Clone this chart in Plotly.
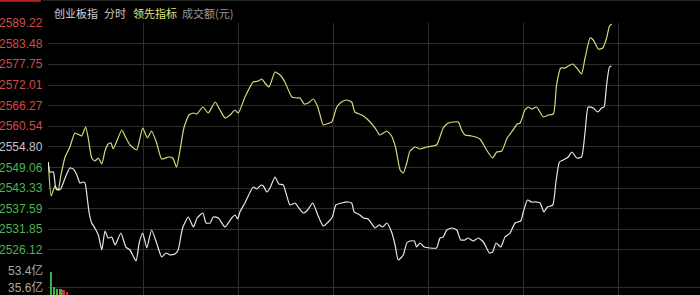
import plotly.graph_objects as go

# ---------------- data ----------------
price_ticks = [2589.22, 2583.48, 2577.75, 2572.01, 2566.27, 2560.54, 2554.80,
               2549.06, 2543.33, 2537.59, 2531.85, 2526.12]
price_bottom = 2520.38
prev_close = 2554.80
time_grid = [0, 30, 60, 90, 120, 150, 180]   # minutes since open

lead_t = [0.1, 1.0, 2.2, 3.2, 4.1, 5.4, 6.9, 8.5, 9.9, 10.6, 11.9, 12.7, 13.8, 14.8,
          15.9, 17.0, 18.0, 19.0, 19.9, 20.6, 23.3, 24.3, 25.9, 28.0, 29.9, 31.4,
          32.7, 34.3, 35.9, 38.0, 39.4, 40.6, 41.7, 42.9, 44.5, 45.9, 47.0, 48.9,
          50.6, 52.8, 54.3, 55.9, 57.5, 59.0, 60.1, 62.2, 64.8, 66.4, 67.5, 68.5,
          69.8, 71.7, 73.3, 74.8, 77.0, 78.5, 79.6, 80.9, 82.2, 83.8, 85.2, 86.9,
          88.0, 89.6, 91.2, 92.7, 94.3, 95.9, 96.9, 99.1, 101.1, 103.3, 104.8,
          107.0, 108.5, 109.8, 111.2, 112.2, 113.3, 114.3, 115.9, 117.5, 119.6,
          122.7, 124.8, 126.4, 128.0, 129.6, 130.6, 131.7, 133.8, 136.4, 138.5,
          140.4, 141.7, 143.3, 145.0, 146.4, 148.2, 149.1, 150.6, 151.7, 152.7,
          154.3, 156.4, 158.0, 159.6, 160.6, 161.9, 163.3, 164.3, 165.7, 167.0,
          168.5, 169.6, 171.2, 172.2, 173.8, 175.2, 176.4, 177.3, 178.0]
lead_v = [2550.32, 2541.13, 2543.91, 2542.80, 2546.98, 2551.99, 2554.77, 2558.67,
          2558.11, 2557.84, 2560.34, 2557.28, 2551.71, 2550.87, 2551.71, 2550.04,
          2553.66, 2555.61, 2555.89, 2554.22, 2559.51, 2557.84, 2555.33, 2553.94,
          2560.06, 2557.28, 2559.23, 2555.89, 2551.43, 2551.99, 2551.71, 2549.20,
          2553.94, 2560.06, 2563.68, 2564.24, 2563.96, 2565.91, 2564.24, 2567.30,
          2565.08, 2562.85, 2563.68, 2565.08, 2564.24, 2568.70, 2572.87, 2573.15,
          2573.71, 2572.60, 2571.48, 2575.66, 2574.82, 2572.87, 2568.70, 2568.42,
          2568.42, 2566.75, 2567.03, 2568.14, 2565.91, 2560.90, 2561.18, 2561.73,
          2565.91, 2567.30, 2567.86, 2567.30, 2564.52, 2563.68, 2562.29, 2560.06,
          2558.11, 2559.23, 2557.84, 2554.49, 2548.37, 2547.53, 2550.32, 2553.66,
          2554.77, 2554.22, 2554.77, 2555.33, 2560.06, 2561.46, 2561.73, 2561.73,
          2559.51, 2558.11, 2557.84, 2557.00, 2553.94, 2551.71, 2553.38, 2553.66,
          2557.28, 2558.95, 2561.18, 2561.46, 2565.08, 2565.91, 2565.35, 2565.91,
          2563.13, 2563.68, 2563.96, 2572.04, 2576.77, 2576.77, 2577.33, 2577.89,
          2576.77, 2575.10, 2579.56, 2585.13, 2584.57, 2582.06, 2582.34, 2585.13,
          2588.47, 2589.03]

index_t = [0.1, 0.6, 1.7, 2.5, 3.3, 4.0, 5.4, 6.9, 8.0, 9.1, 10.1, 11.0, 11.7, 12.2,
           13.0, 13.8, 14.8, 15.9, 17.0, 18.0, 19.0, 20.1, 21.2, 23.0, 24.6, 25.9,
           27.8, 28.8, 29.9, 31.2, 32.7, 34.3, 35.9, 37.3, 38.5, 40.1, 41.1, 42.5,
           44.3, 45.9, 47.1, 48.9, 49.9, 51.2, 52.2, 53.8, 55.9, 58.0, 59.1, 59.9,
           60.6, 62.2, 64.8, 65.9, 67.3, 68.0, 69.1, 70.1, 71.7, 72.9, 74.3, 76.4,
           78.0, 79.0, 80.6, 82.0, 83.6, 85.2, 86.9, 88.5, 89.8, 90.9, 92.7, 94.8,
           95.9, 96.7, 98.5, 99.6, 101.1, 103.3, 104.6, 105.7, 107.0, 108.5, 109.6,
           110.6, 112.2, 113.3, 114.3, 115.7, 116.4, 117.5, 118.8, 120.6, 122.7,
           123.8, 124.8, 125.9, 127.5, 129.1, 130.3, 131.7, 132.7, 134.3, 135.9,
           137.5, 139.4, 140.4, 141.5, 143.0, 144.3, 145.9, 147.5, 149.3, 150.1,
           151.4, 152.7, 154.3, 155.4, 156.6, 157.7, 159.4, 160.4, 161.5, 162.7,
           164.3, 165.4, 167.0, 168.5, 169.6, 170.6, 172.2, 173.6, 174.8, 175.6,
           176.4, 177.3, 178.0]
index_v = [2550.60, 2547.81, 2547.81, 2543.08, 2542.80, 2543.08, 2546.14, 2548.92,
           2548.65, 2546.98, 2544.75, 2545.03, 2544.75, 2541.96, 2536.39, 2533.61,
           2532.22, 2530.27, 2526.09, 2531.38, 2529.43, 2529.71, 2527.48, 2530.82,
           2526.92, 2526.09, 2523.03, 2528.04, 2530.82, 2526.65, 2531.66, 2528.04,
           2524.14, 2525.25, 2524.70, 2524.98, 2526.09, 2532.22, 2535.28, 2532.49,
           2535.00, 2536.39, 2533.61, 2533.61, 2535.28, 2535.00, 2532.49, 2535.00,
           2535.84, 2534.72, 2536.67, 2539.18, 2543.63, 2543.08, 2544.19, 2543.91,
           2542.24, 2543.36, 2546.42, 2544.47, 2544.19, 2538.62, 2539.18, 2538.06,
           2536.39, 2537.23, 2539.18, 2535.84, 2532.77, 2533.89, 2535.28, 2538.62,
           2539.18, 2539.46, 2539.18, 2536.67, 2535.84, 2535.00, 2534.72, 2532.22,
           2533.06, 2532.49, 2533.61, 2531.10, 2527.48, 2523.30, 2524.70, 2528.04,
           2528.60, 2528.60, 2526.92, 2528.04, 2526.92, 2526.65, 2526.65, 2529.43,
           2529.71, 2531.66, 2532.22, 2531.66, 2528.88, 2528.88, 2529.43, 2528.60,
           2529.43, 2528.32, 2525.25, 2525.53, 2528.04, 2526.92, 2529.71, 2530.82,
           2533.61, 2534.17, 2536.67, 2540.01, 2539.46, 2539.46, 2539.18, 2536.67,
           2538.06, 2538.62, 2545.03, 2550.60, 2551.15, 2551.99, 2553.38, 2551.71,
           2551.99, 2558.95, 2565.91, 2565.63, 2564.52, 2565.63, 2565.91, 2572.04,
           2577.05, 2577.33]

vol_t = [1, 2, 3, 4, 5, 6]
vol_v = [52.1, 35.9, 34.5, 33.5, 32.4, 30.5]
vol_up = [False, False, False, False, True, True]
vol_ticks = [53.4, 35.6]
vol_labels = ["53.4亿", "35.6亿"]

header = [("创业板指", "#d2d2d2"), ("分时", "#c8c8c8"),
          ("领先指标", "#e2e27a"), ("成交额(元)", "#9a9a9a")]

# ---------------- figure ----------------
W, H = 700, 295
LEFT = 48
PX_PER_MIN = 95 / 30
y_top_px, y_bot_px = 23.3, 270.5
vol_35_px = 287.0

fig = go.Figure()

fig.add_trace(go.Scatter(x=lead_t, y=lead_v, mode="lines",
                         line=dict(color="#d9d97c", width=1.2, shape="spline", smoothing=0.5),
                         xaxis="x", yaxis="y", hoverinfo="skip"))
fig.add_trace(go.Scatter(x=index_t, y=index_v, mode="lines",
                         line=dict(color="#e6e6e6", width=1.2, shape="spline", smoothing=0.5),
                         xaxis="x", yaxis="y", hoverinfo="skip"))
fig.add_trace(go.Bar(x=vol_t, y=vol_v, width=0.55,
                     marker=dict(color=["#c23a3a" if u else "#3fb03f" for u in vol_up],
                                 line=dict(width=0)),
                     xaxis="x2", yaxis="y2", hoverinfo="skip"))

x_max = (W - LEFT) / PX_PER_MIN
dom_price = [(H - y_bot_px) / H, (H - y_top_px) / H]
dom_vol = [0, (H - y_bot_px) / H]
vol_step_px = vol_35_px - y_bot_px
vol_unit = (vol_ticks[0] - vol_ticks[1]) / vol_step_px
vol_min = vol_ticks[0] - (H - y_bot_px) * vol_unit

grid = "#2e2e2e"
xcommon = dict(range=[0, x_max], domain=[LEFT / W, 1], tickvals=time_grid,
               showgrid=True, gridcolor=grid, gridwidth=1, showticklabels=False,
               zeroline=False, showline=False, ticks="")
fig.update_layout(
    width=W, height=H, margin=dict(l=0, r=0, t=0, b=0),
    paper_bgcolor="#000000", plot_bgcolor="#000000", showlegend=False,
    xaxis=dict(anchor="y", **xcommon),
    xaxis2=dict(anchor="y2", matches="x", **xcommon),
    yaxis=dict(domain=dom_price, range=[price_bottom, price_ticks[0]],
               tickvals=price_ticks + [price_bottom], showticklabels=False,
               showgrid=True, gridcolor=grid, gridwidth=1, zeroline=False, ticks=""),
    yaxis2=dict(domain=dom_vol, range=[vol_min, vol_ticks[0]],
                tickvals=vol_ticks, showticklabels=False,
                showgrid=True, gridcolor=grid, gridwidth=1, zeroline=False, ticks=""),
    bargap=0,
)

font_num = "Liberation Sans, Arial, Noto Sans CJK SC, sans-serif"
annotations = []
for v in price_ticks:
    if v > prev_close + 0.001:
        col = "#d04a4a"
    elif v < prev_close - 0.001:
        col = "#4fb34f"
    else:
        col = "#c4c4c4"
    annotations.append(dict(x=45 / W, xref="paper", y=v, yref="y", text=f"{v:.2f}",
                            showarrow=False, xanchor="right", yanchor="middle",
                            font=dict(family=font_num, size=12, color=col)))
for v, lab in zip(vol_ticks, vol_labels):
    annotations.append(dict(x=45 / W, xref="paper", y=v, yref="y2", text=lab,
                            showarrow=False, xanchor="right", yanchor="middle",
                            font=dict(family=font_num, size=12, color="#a8a8a8")))
hx = [52, 101.5, 131, 180]
for (txt, col), xp in zip(header, hx):
    annotations.append(dict(x=xp / W, xref="paper", y=(H - 12.5) / H, yref="paper",
                            text=txt, showarrow=False, xanchor="left", yanchor="middle",
                            font=dict(family="Noto Sans CJK SC, sans-serif", size=11, color=col)))
fig.update_layout(annotations=annotations)

fig.add_shape(type="line", xref="paper", yref="paper", x0=0, x1=41 / W,
              y0=1 - 0.8 / H, y1=1 - 0.8 / H, line=dict(color="#b02424", width=2))
fig.add_shape(type="line", xref="paper", yref="paper", x0=43 / W, x1=1,
              y0=1 - 0.5 / H, y1=1 - 0.5 / H, line=dict(color="#262626", width=1))

fig.write_html("out.html")
